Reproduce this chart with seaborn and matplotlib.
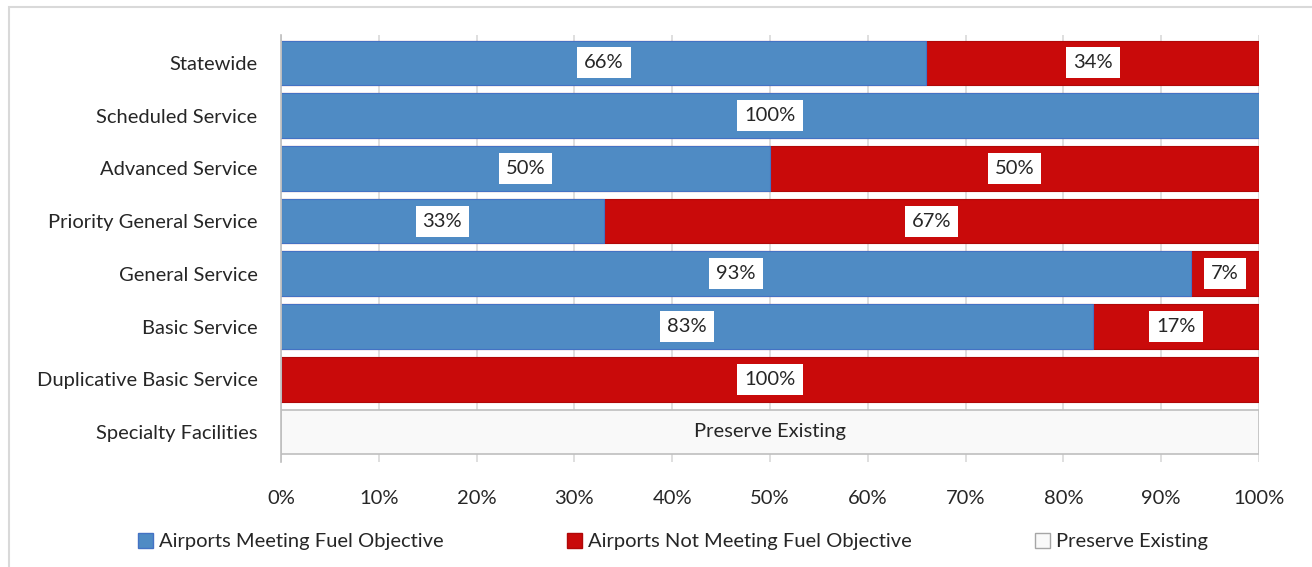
import matplotlib
matplotlib.use("Agg")
import matplotlib.pyplot as plt
import matplotlib.patches as mpatches
import pandas as pd
import seaborn as sns

# Chart data
categories = ["Statewide", "Scheduled Service", "Advanced Service",
              "Priority General Service", "General Service", "Basic Service",
              "Duplicative Basic Service", "Specialty Facilities"]
meeting = [66, 100, 50, 33, 93, 83, 0, 0]
not_meeting = [34, 0, 50, 67, 7, 17, 100, 0]
preserve = [0, 0, 0, 0, 0, 0, 0, 100]
xticks = [0, 10, 20, 30, 40, 50, 60, 70, 80, 90, 100]

blue = "#4F8BC4"
red = "#C90A0A"
light = "#F9F9F9"
fs = 14.5

df = pd.DataFrame({"category": categories, "meeting": meeting,
                   "not_meeting": not_meeting, "preserve": preserve})
df["stack"] = df["meeting"] + df["not_meeting"]

sns.set_style("white")
plt.rcParams["font.family"] = ["Lato", "DejaVu Sans"]

fig = plt.figure(figsize=(13.12, 5.67), dpi=100)
ax = fig.add_axes([281 / 1312, 105 / 567, 978 / 1312, 427 / 567])

# red (full stack) first, blue on top, then preserve-existing bar
sns.barplot(data=df, y="category", x="stack", color=red, orient="h",
            width=0.85, edgecolor="#B00808", linewidth=0.8, ax=ax)
sns.barplot(data=df, y="category", x="meeting", color=blue, orient="h",
            width=0.85, edgecolor="#4472C4", linewidth=0.8, ax=ax)
sns.barplot(data=df, y="category", x="preserve", color=light, orient="h",
            width=0.85, edgecolor="#BFBFBF", linewidth=1.2, ax=ax)

# seaborn desaturates the colour a little; force exact colours
for p in ax.containers[0]:
    p.set_facecolor(red)
for p in ax.containers[1]:
    p.set_facecolor(blue)
for p in ax.containers[2]:
    p.set_facecolor(light)

box = dict(boxstyle="square,pad=0.35", facecolor="white", edgecolor="none")
for i in range(len(categories)):
    m, n = meeting[i], not_meeting[i]
    if m > 0:
        ax.text(m / 2, i, f"{m}%", ha="center", va="center", fontsize=fs,
                color="#262626", bbox=box)
    if n > 0:
        ax.text(m + n / 2, i, f"{n}%", ha="center", va="center", fontsize=fs,
                color="#262626", bbox=box)
    if preserve[i] > 0:
        ax.text(preserve[i] / 2, i, "Preserve Existing", ha="center",
                va="center", fontsize=fs, color="#262626")

ax.set_xlim(0, 100)
ax.set_ylim(7.57, -0.53)
ax.set_xticks(xticks)
ax.set_xticklabels([f"{v}%" for v in xticks])
ax.set_xlabel("")
ax.set_ylabel("")
ax.tick_params(axis="x", length=0, pad=20, labelsize=fs, labelcolor="#262626")
ax.tick_params(axis="y", length=0, pad=17, labelsize=fs, labelcolor="#262626")
ax.grid(axis="x", color="#D9D9D9", linewidth=1.2)
ax.set_axisbelow(True)
for s in ["top", "right", "bottom"]:
    ax.spines[s].set_visible(False)
ax.spines["left"].set_color("#BFBFBF")
ax.spines["left"].set_linewidth(1.2)

handles = [mpatches.Patch(facecolor=blue, edgecolor="#4472C4", label="Airports Meeting Fuel Objective"),
           mpatches.Patch(facecolor=red, edgecolor="#B00808", label="Airports Not Meeting Fuel Objective"),
           mpatches.Patch(facecolor=light, edgecolor="#A6A6A6", label="Preserve Existing")]
fig.legend(handles=handles, loc="center", bbox_to_anchor=(0.513, 0.045), ncol=3,
           frameon=False, fontsize=fs, handlelength=0.75, handleheight=0.75,
           handletextpad=0.3, columnspacing=6.1, labelcolor="#262626")

# chart border
fig.add_artist(mpatches.Rectangle((9 / 1312, -0.02), 1.1, (560 / 567) + 0.02,
                                  transform=fig.transFigure, fill=False,
                                  edgecolor="#D9D9D9", linewidth=1.5))

fig.savefig("out.png", dpi=100)
